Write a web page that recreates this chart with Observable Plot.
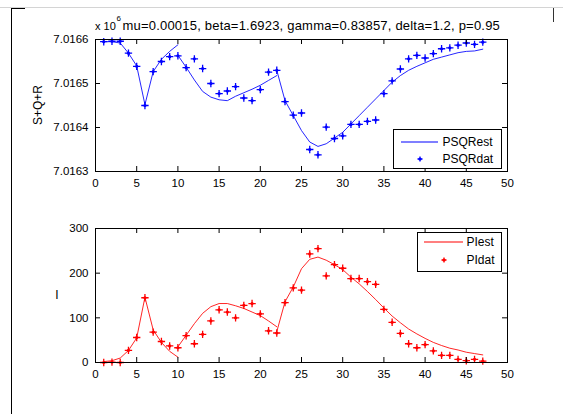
<!DOCTYPE html>
<html>
<head>
<meta charset="utf-8">
<script src="https://cdn.jsdelivr.net/npm/d3@7"></script>
<script src="https://cdn.jsdelivr.net/npm/@observablehq/plot@0.6"></script>
<style>
  html, body { margin: 0; padding: 0; background: #fff; }
  #wrap { position: relative; width: 563px; height: 414px; overflow: hidden; background: #fff;
          font-family: "Liberation Sans", Arial, sans-serif; }
  #wrap > svg, #wrap > div { position: absolute; }
</style>
</head>
<body>
<div id="wrap"></div>
<script>
// ---------- data ----------
const days = [1,2,3,4,5,6,7,8,9,10,11,12,13,14,15,16,17,18,19,20,21,22,23,24,25,26,27,28,29,30,31,32,33,34,35,36,37,38,39,40,41,42,43,44,45,46,47];

// S+Q+R observed
const psqrDat = [7016595,7016596,7016596,7016569,7016539,7016450,7016527,7016550,7016561,7016563,
  7016536,7016556,7016534,7016500,7016477,7016483,7016493,7016467,7016461,7016486,
  7016526,7016530,7016459,7016428,7016433,7016350,7016338,7016401,7016375,7016381,
  7016407,7016407,7016414,7016417,7016477,7016506,7016533,7016556,7016564,7016558,
  7016568,7016579,7016581,7016587,7016592,7016589,7016594];

// S+Q+R estimated, three fitted segments
const estDays1 = [1,2,3,4,5,6,7,8,9,10];
const estDays2 = [10,11,12,13,14,15,16,17,18,19,20,21,22];
const estDays3 = [22,23,24,25,26,27,28,29,30,31,32,33,34,35,36,37,38,39,40,41,42,43,44,45,46,47];
const psqrEst1 = [7016595,7016595,7016592,7016569,7016540,7016452,7016527,7016555,7016573,7016588];
const psqrEst2 = [7016564,7016537,7016508,7016482,7016469,7016463,7016461,7016471,7016479,7016487,7016496,7016507,7016518];
const psqrEst3 = [7016530,7016461,7016427,7016393,7016367,7016357,7016363,7016376,7016389,7016408,
  7016427,7016446,7016465,7016484,7016503,7016518,7016530,7016539,7016547,7016555,
  7016560,7016565,7016570,7016573,7016574,7016578];

// I observed
const piDat = [0,1,0,27,56,145,68,47,37,33,60,42,63,93,118,113,100,128,132,109,
  71,66,134,167,162,243,255,194,219,211,188,188,181,175,119,90,65,42,33,40,
  26,16,16,7,4,7,3];
// I estimated
const piEst1 = [2,4,10,27,55,146,73,45,25,12];
const piEst2 = [35,61,87,110,125,132,132,127,121,113,105,93,80];
const piEst3 = [69,136,169,210,231,236,229,219,208,191,176,159,141,122,104,89,75,64,54,45,38,32,28,23,20,17];

const xTicks = [0,5,10,15,20,25,30,35,40,45,50];
const yTicksTop = [7016300,7016400,7016500,7016600];
const yTicksBot = [0,100,200,300];
const titleText = "mu=0.00015, beta=1.6923, gamma=0.83857, delta=1.2, p=0.95";
const topLegend = ["PSQRest","PSQRdat"];
const botLegend = ["PIest","PIdat"];

// ---------- tables ----------
function segRows(dd, vv, seg) { return dd.map((t,i) => ({t, v: vv[i], seg})); }
const topEst = [...segRows(estDays1, psqrEst1, 1), ...segRows(estDays2, psqrEst2, 2), ...segRows(estDays3, psqrEst3, 3)];
const botEst = [...segRows(estDays1, piEst1, 1), ...segRows(estDays2, piEst2, 2), ...segRows(estDays3, piEst3, 3)];
const topDat = days.map((t,i) => ({t, v: psqrDat[i]}));
const botDat = days.map((t,i) => ({t, v: piDat[i]}));

const W = 563, ML = 95, MR = 56, TL = 5;
const font = "Liberation Sans, Arial, sans-serif";

function panel({height, mt, mb, yDomain, yTicks, yFmt, est, dat, color}) {
  const ih = height - mt - mb, iw = W - ML - MR;
  return Plot.plot({
    width: W, height, marginLeft: ML, marginRight: MR, marginTop: mt, marginBottom: mb,
    style: {fontFamily: font, fontSize: "11.5px", background: "transparent", color: "#000"},
    x: {domain: [0, 50]},
    y: {domain: yDomain},
    marks: [
      Plot.line(est, {x: "t", y: "v", z: "seg", stroke: color, strokeWidth: 1, strokeOpacity: 0.85, curve: "linear"}),
      Plot.dot(dat, {x: "t", y: "v", r: 1.6, fill: color, stroke: "none"}),
      Plot.dot(dat, {x: "t", y: "v", r: 2.5, symbol: "plus", stroke: color, strokeWidth: 1.3}),
      // inward ticks, MATLAB style, on all four sides
      Plot.tickX(xTicks, {x: d => d, insetTop: ih - TL, stroke: "#000"}),
      Plot.tickX(xTicks, {x: d => d, insetBottom: ih - TL, stroke: "#000"}),
      Plot.tickY(yTicks, {y: d => d, insetRight: iw - TL, stroke: "#000"}),
      Plot.tickY(yTicks, {y: d => d, insetLeft: iw - TL, stroke: "#000"}),
      Plot.axisX({ticks: xTicks, tickSize: 0, tickPadding: 7, label: null, fontSize: 11.5}),
      Plot.axisY({ticks: yTicks, tickSize: 0, tickPadding: 7, label: null, tickFormat: yFmt, fontSize: 11.5}),
      Plot.frame({stroke: "#000", strokeWidth: 1})
    ]
  });
}

const wrap = document.getElementById("wrap");

const topPlot = panel({height: 196, mt: 39, mb: 25, yDomain: [7016300, 7016600], yTicks: yTicksTop,
  yFmt: d => (d / 1e6).toFixed(4), est: topEst, dat: topDat, color: "#0000ff"});
topPlot.style.left = "0px"; topPlot.style.top = "0px";
wrap.appendChild(topPlot);

const botPlot = panel({height: 214, mt: 28, mb: 52, yDomain: [0, 300], yTicks: yTicksBot,
  yFmt: d => String(d), est: botEst, dat: botDat, color: "#ff0000"});
botPlot.style.left = "0px"; botPlot.style.top = "200px";
wrap.appendChild(botPlot);

// ---------- text overlay: title, exponent, y labels, legends ----------
const NS = "http://www.w3.org/2000/svg";
const ov = document.createElementNS(NS, "svg");
ov.setAttribute("width", W); ov.setAttribute("height", 414);
ov.style.left = "0px"; ov.style.top = "0px";
ov.setAttribute("font-family", font);
wrap.appendChild(ov);
function el(tag, attrs, text) {
  const e = document.createElementNS(NS, tag);
  for (const k in attrs) e.setAttribute(k, attrs[k]);
  if (text != null) e.textContent = text;
  ov.appendChild(e); return e;
}
el("text", {x: 95, y: 29.5, "font-size": 11}, "x 10");
el("text", {x: 116.5, y: 20.5, "font-size": 8}, "6");
el("text", {x: 122.5, y: 29.5, "font-size": 13, "letter-spacing": "0.2"}, titleText);
el("text", {x: 0, y: 0, "font-size": 12, "text-anchor": "middle",
  transform: "translate(42,105) rotate(-90)"}, "S+Q+R");
el("text", {x: 57, y: 299, "font-size": 12, "text-anchor": "middle"}, "I");

function marker(cx, cy, color) {
  el("circle", {cx, cy, r: 1.6, fill: color});
  el("path", {d: `M${cx-2.5},${cy}H${cx+2.5}M${cx},${cy-2.5}V${cy+2.5}`, stroke: color, "stroke-width": 1.3});
}
function legend(x0, y0, w, h, lineX1, lineX2, lineY, mx, my, tx, labels, color) {
  el("rect", {x: x0 + 0.5, y: y0 + 0.5, width: w, height: h, fill: "#fff", stroke: "#000"});
  el("line", {x1: lineX1, x2: lineX2, y1: lineY, y2: lineY, stroke: color, "stroke-width": 1.1});
  el("text", {x: tx, y: lineY + 4.3, "font-size": 12}, labels[0]);
  marker(mx, my, color);
  el("text", {x: tx, y: my + 4.3, "font-size": 12}, labels[1]);
}
legend(393, 129, 108, 39, 401, 438, 142, 420, 159, 442.5, topLegend, "#0000ff");
legend(417, 232, 84, 39, 424, 463, 242, 444, 260, 466.5, botLegend, "#ff0000");

// ---------- window decorations ----------
function deco(l, t, w, h, c) {
  const d = document.createElement("div");
  d.style.cssText = `left:${l}px;top:${t}px;width:${w}px;height:${h}px;background:${c};position:absolute`;
  wrap.appendChild(d);
}
deco(0, 7, 563, 1, "#d4d4d4");
deco(11, 8, 1, 406, "#000");
deco(11, 8, 14, 1, "#000");
deco(553, 8, 1, 14, "#333");
</script>
</body>
</html>
